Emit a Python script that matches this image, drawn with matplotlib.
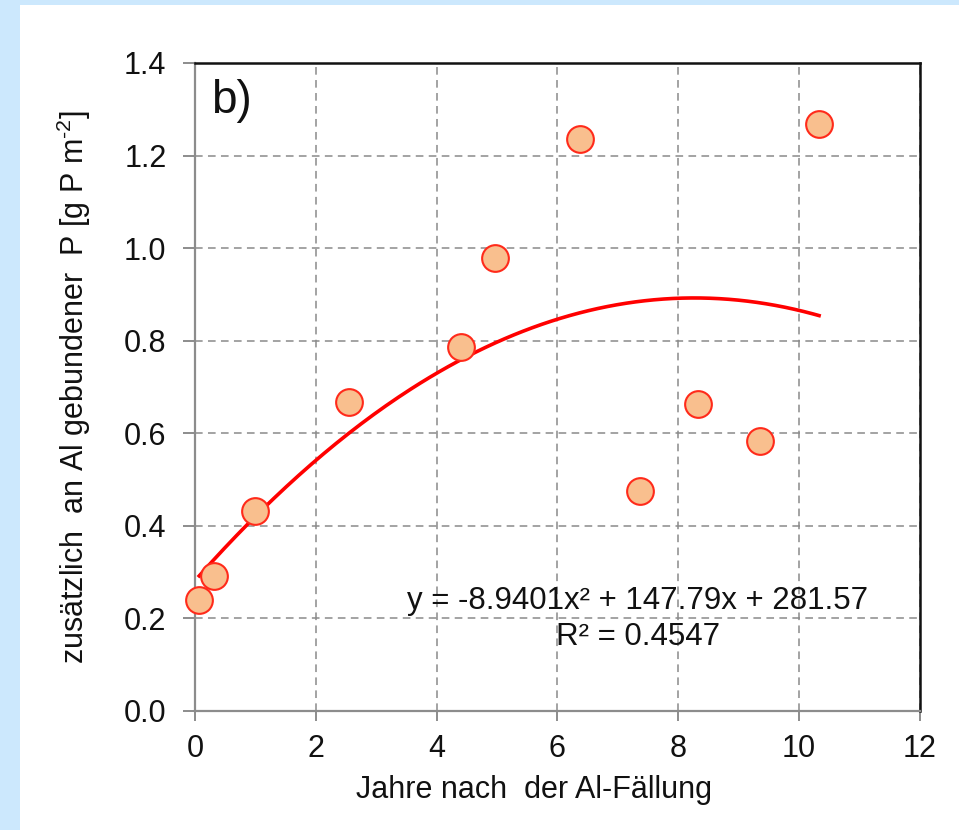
import numpy as np
import matplotlib.pyplot as plt
from matplotlib.patches import Rectangle

plt.rcParams['font.family'] = ['Liberation Sans', 'DejaVu Sans']
plt.rcParams['mathtext.fontset'] = 'custom'
plt.rcParams['mathtext.rm'] = 'Liberation Sans'

# years after the Al treatment and additionally Al-bound P
years = [0.07, 0.31, 0.99, 2.55, 4.40, 4.97, 6.37, 7.37, 8.33, 9.35, 10.33]
p_bound = [0.240, 0.291, 0.431, 0.667, 0.786, 0.979, 1.236, 0.475, 0.663, 0.583, 1.268]

# polynomial trend (per mille units, as given in the equation)
coef = [-8.9401, 147.79, 281.57]
r2 = 0.4547

xticks = [0, 2, 4, 6, 8, 10, 12]
yticks = [0.0, 0.2, 0.4, 0.6, 0.8, 1.0, 1.2, 1.4]

fig = plt.figure(figsize=(9.59, 8.3), dpi=100)
fig.patch.set_facecolor('#cce8fd')
fig.patches.append(Rectangle((20 / 959, 0), 1, 1 - 5 / 830, transform=fig.transFigure,
                             facecolor='white', edgecolor='none', zorder=-10))

ax = fig.add_axes([0.2033, 0.1434, 0.756, 0.7807])
ax.set_xlim(0, 12)
ax.set_ylim(0, 1.4)

# trend line
xs = np.linspace(min(years), max(years), 200)
ys = (coef[0] * xs ** 2 + coef[1] * xs + coef[2]) / 1000
ax.plot(xs, ys, color='#ff0000', lw=2.6, zorder=3)

ax.scatter(years, p_bound, s=370, facecolor='#f9bf8e', edgecolor='#ff2a1a',
           linewidth=1.5, zorder=4, clip_on=False)

ax.set_xticks(xticks)
ax.set_yticks(yticks)
ax.set_xticklabels([str(t) for t in xticks])
ax.set_yticklabels(['%.1f' % t for t in yticks])
ax.grid(True, color='#8a8a8a', linestyle=(0, (5, 3.5)), linewidth=1.1)
ax.set_axisbelow(True)

for side in ['left', 'bottom']:
    ax.spines[side].set_color('#8c8c8c')
    ax.spines[side].set_linewidth(1.6)
for side in ['top', 'right']:
    ax.spines[side].set_color('#111111')
    ax.spines[side].set_linewidth(1.8)

ax.tick_params(axis='both', direction='out', color='#8c8c8c', width=1.4,
               labelsize=22, labelcolor='#111111')
ax.tick_params(axis='y', length=8.5, pad=12)
ax.tick_params(axis='x', length=7.5, pad=9)

ax.set_xlabel('Jahre nach  der Al-Fällung', fontsize=22, color='#111111', labelpad=8)
ax.xaxis.label.set_x(0.468)
ax.set_ylabel(r'zusätzlich  an Al gebundener  P [g P m$^{\text{-2}}$]', fontsize=22,
              color='#111111', labelpad=22)

ax.text(0.022, 0.975, 'b)', transform=ax.transAxes, fontsize=33, va='top', ha='left',
        color='#111111')

ax.text(7.33, 0.237, 'y = -8.9401x² + 147.79x + 281.57', fontsize=22.5, ha='center',
        va='center', color='#111111')
ax.text(7.33, 0.16, 'R² = %.4f' % r2, fontsize=22.5, ha='center', va='center',
        color='#111111')

fig.savefig('out.png', dpi=100, facecolor=fig.get_facecolor())
